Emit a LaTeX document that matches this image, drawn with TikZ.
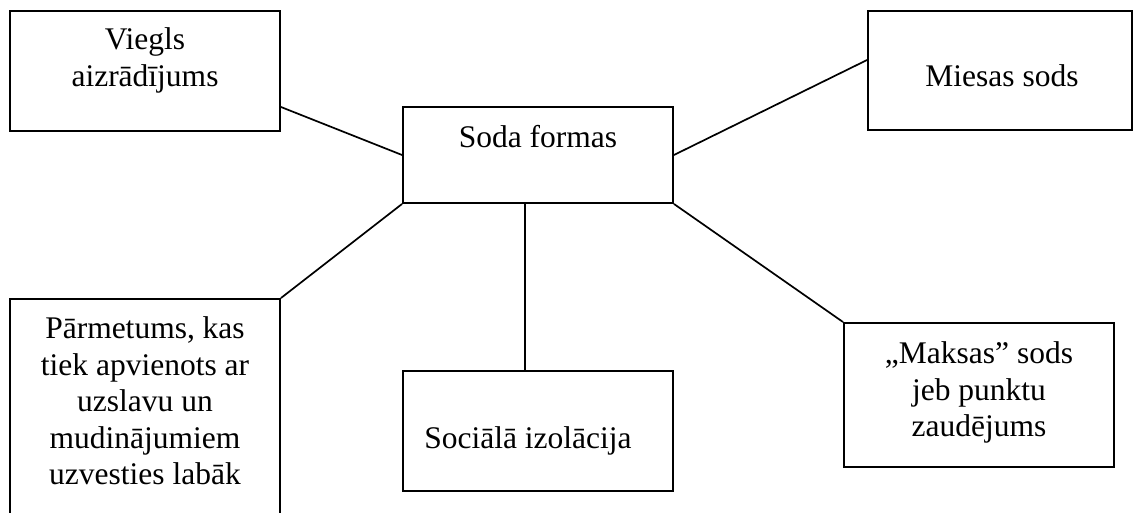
\documentclass[tikz,border=0pt]{standalone}
\usepackage{fontspec}
\setmainfont{Liberation Serif}
\begin{document}
\begin{tikzpicture}[x=1pt,y=1pt,
  box/.style={draw=black, line width=1.9pt, fill=white, inner sep=0pt, minimum width=#1},
  txt/.style={anchor=base, inner sep=0pt, font=\fontsize{31.5}{36.5}\selectfont},
  conn/.style={draw=black, line width=1.7pt}]
\useasboundingbox[fill=white] (0,0) rectangle (1133,512);
% boxes
\node[box=270pt, minimum height=120pt] (viegls) at (145,441) {};
\node[box=270pt, minimum height=96pt]  (soda)   at (538,357) {};
\node[box=264pt, minimum height=119pt] (miesas) at (1000,441.5) {};
\node[box=270pt, minimum height=226pt] (parm)   at (145,100) {};
\node[box=270pt, minimum height=120pt] (soc)    at (538,81) {};
\node[box=270pt, minimum height=144pt] (maksas) at (979,117) {};
% texts
\node[txt] (tviegls) at (145,462) {\parbox[t]{260pt}{\centering Viegls\\aizrādījums}};
\node[txt] (tsoda) at (538,364) {Soda formas};
\node[txt] (tmiesas) at (1002,425) {Miesas sods};
\node[txt] (tparm) at (145,173) {\parbox[t]{260pt}{\centering Pārmetums, kas\\tiek apvienots ar\\uzslavu un\\mudinājumiem\\uzvesties labāk}};
\node[txt] (tsoc) at (528,64) {Sociālā izolācija};
\node[txt] (tmaksas) at (979,148.5) {\parbox[t]{260pt}{\centering „Maksas” sods\\jeb punktu\\zaudējums}};
% connectors
\draw[conn] ([yshift=-36pt]viegls.east) -- (soda.west);
\draw[conn] (soda.east) -- ([yshift=10.5pt]miesas.west);
\draw[conn] (soda.south west) -- (parm.north east);
\draw[conn] ([xshift=-13pt]soda.south) -- ([xshift=-13pt]soc.north);
\draw[conn] (soda.south east) -- (maksas.north west);
\end{tikzpicture}
\end{document}
